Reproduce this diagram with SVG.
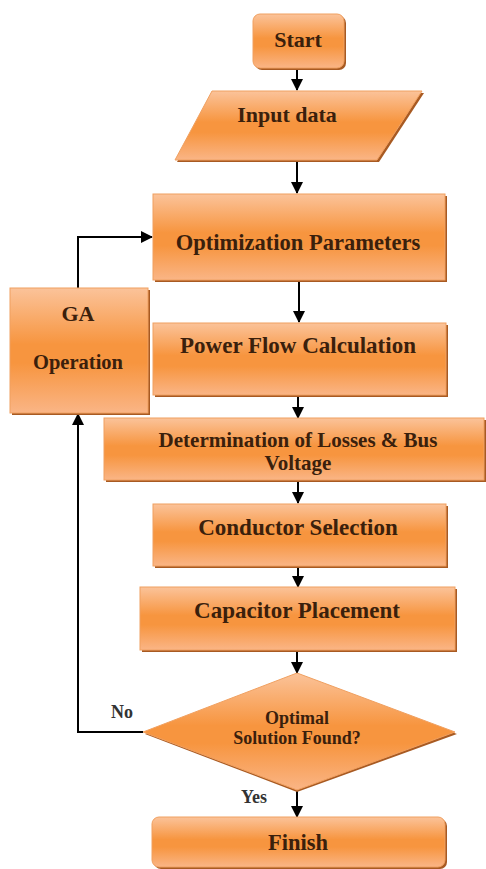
<svg xmlns="http://www.w3.org/2000/svg" width="486" height="869" viewBox="0 0 486 869">
<defs>
<linearGradient id="g" x1="0" y1="0" x2="0" y2="1">
<stop offset="0" stop-color="#fbc39a"/>
<stop offset="0.45" stop-color="#f7953f"/>
<stop offset="0.6" stop-color="#f7953f"/>
<stop offset="1" stop-color="#fab586"/>
</linearGradient>
<marker id="ah" viewBox="0 0 10 10" refX="9" refY="5" markerWidth="5" markerHeight="5" orient="auto" markerUnits="userSpaceOnUse">
<path d="M0,0 L10,5 L0,10 z" fill="#000"/>
</marker>
<marker id="a" viewBox="0 0 12 12" refX="11" refY="6" markerWidth="12" markerHeight="12" orient="auto" markerUnits="userSpaceOnUse">
<path d="M0,0 L12,6 L0,12 z" fill="#000"/>
</marker>
</defs>
<style>
.box{fill:url(#g);stroke:#f0a060;stroke-width:1}
.sh{fill:#a85a22}
.t{font-family:"Liberation Serif","Times New Roman",serif;font-weight:bold;fill:#3a200c;text-anchor:middle}
.lbl{font-family:"Liberation Serif","Times New Roman",serif;font-weight:bold;fill:#333;text-anchor:middle;font-size:18px}
.c{fill:none;stroke:#000;stroke-width:2;marker-end:url(#a)}
</style>
<g id="connectors">
<line class="c" x1="297" y1="68" x2="297" y2="90"/>
<line class="c" x1="297" y1="160" x2="297" y2="193"/>
<line class="c" x1="299" y1="281" x2="299" y2="322"/>
<line class="c" x1="298" y1="396" x2="298" y2="418"/>
<line class="c" x1="298" y1="481" x2="298" y2="503"/>
<line class="c" x1="298" y1="567" x2="298" y2="587"/>
<line class="c" x1="297" y1="651" x2="297" y2="673"/>
<line class="c" x1="297" y1="791" x2="297" y2="817"/>
<polyline class="c" points="78,288 78,237 152,237"/>
<polyline class="c" points="143,732 78,732 78,414"/>
<text class="lbl" x="122" y="718">No</text>
<text class="lbl" x="254" y="803">Yes</text>
</g>
<g id="start">
<rect class="sh" x="255" y="16" width="91" height="54" rx="7"/>
<rect class="box" x="253" y="14" width="91" height="54" rx="7"/>
<text class="t" x="298" y="47" font-size="22">Start</text>
</g>
<g id="input">
<polygon class="sh" points="214,93 424,93 379,162 177,162"/>
<polygon class="box" points="212,91 422,91 377,160 175,160"/>
<text class="t" x="287" y="122" font-size="22">Input data</text>
</g>
<g id="opt">
<rect class="sh" x="155" y="196" width="292" height="86"/>
<rect class="box" x="153" y="194" width="292" height="86"/>
<text class="t" x="298" y="250" font-size="22.5">Optimization Parameters</text>
</g>
<g id="ga">
<rect class="sh" x="12" y="290" width="138" height="125"/>
<rect class="box" x="10" y="288" width="138" height="125"/>
<text class="t" x="78" y="321" font-size="22">GA</text>
<text class="t" x="78" y="369" font-size="20.5">Operation</text>
</g>
<g id="power">
<rect class="sh" x="155" y="325" width="293" height="72"/>
<rect class="box" x="153" y="323" width="293" height="72"/>
<text class="t" x="298" y="353" font-size="23">Power Flow Calculation</text>
</g>
<g id="det">
<rect class="sh" x="106" y="420" width="380" height="62"/>
<rect class="box" x="104" y="418" width="380" height="62"/>
<text class="t" x="298" y="447" font-size="21">Determination of Losses &amp; Bus</text>
<text class="t" x="298" y="470" font-size="21">Voltage</text>
</g>
<g id="cond">
<rect class="sh" x="155" y="506" width="293" height="62"/>
<rect class="box" x="153" y="504" width="293" height="62"/>
<text class="t" x="298" y="535" font-size="23">Conductor Selection</text>
</g>
<g id="cap">
<rect class="sh" x="142" y="589" width="315" height="63"/>
<rect class="box" x="140" y="587" width="315" height="63"/>
<text class="t" x="297" y="618" font-size="23">Capacitor Placement</text>
</g>
<g id="decision">
<polygon class="sh" points="297,675 457,734 297,792 145,734"/>
<polygon class="box" points="297,673 455,732 297,790 143,732"/>
<text class="t" x="297" y="724" font-size="18">Optimal</text>
<text class="t" x="297" y="744" font-size="18">Solution Found?</text>
</g>
<g id="finish">
<rect class="sh" x="154" y="819" width="293" height="50" rx="7"/>
<rect class="box" x="152" y="817" width="293" height="50" rx="7"/>
<text class="t" x="298" y="850" font-size="22.5">Finish</text>
</g>
</svg>
